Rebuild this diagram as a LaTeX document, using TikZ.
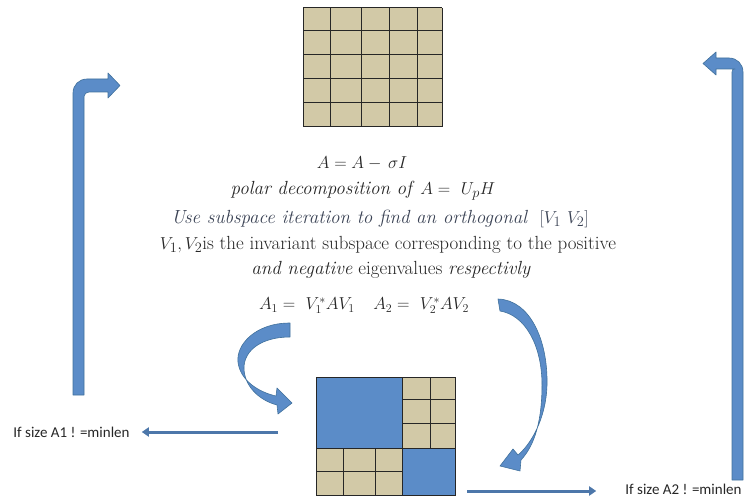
\documentclass[tikz,border=0pt]{standalone}
\usepackage{fontspec}
\newfontfamily\carl{Carlito}
\usetikzlibrary{arrows.meta}
\definecolor{tanc}{HTML}{D2C9A7}
\definecolor{blk}{HTML}{5B8CC8}
\definecolor{blkedge}{HTML}{41719C}
\definecolor{txt}{HTML}{262626}
\definecolor{txtb}{HTML}{3A4254}
\tikzset{
  gridline/.style={draw=black!85, line width=1pt},
  blockarrow/.style={fill=blk, draw=blkedge, line width=0.6pt, line join=round},
  conn/.style={draw=blk!85!black, line width=3pt, -{Triangle[length=7pt,width=9pt]}},
  eq/.style={text=txt, font=\fontsize{19}{22}\selectfont, inner sep=0pt, anchor=center,
    text height=13pt, text depth=4pt},
  side/.style={text=black!85, font=\carl\fontsize{15}{18}\selectfont, inner sep=0pt}
}
\begin{document}
\begin{tikzpicture}[x=1pt,y=-1pt]
\useasboundingbox (0,0) rectangle (747,497);
% top matrix
\fill[tanc] (303,8) rectangle (442,127);
\foreach \x in {303,330,361,389,417,442} \draw[gridline] (\x,8) -- (\x,127);
\foreach \y in {8,31,55,79,103,127} \draw[gridline] (303,\y) -- (442,\y);
% bottom matrix
\fill[blk] (316,377) rectangle (402,448);
\fill[tanc] (402,377) rectangle (455,448);
\fill[tanc] (316,448) rectangle (402,495);
\fill[blk] (402,448) rectangle (455,495);
\draw[gridline] (430,377) -- (430,448);
\foreach \y in {399,423} \draw[gridline] (402,\y) -- (455,\y);
\foreach \x in {343,375} \draw[gridline] (\x,448) -- (\x,495);
\draw[gridline] (316,471) -- (402,471);
\draw[gridline] (316,448) -- (455,448);
\draw[gridline] (402,377) -- (402,495);
\draw[gridline] (316,377) rectangle (455,495);
% text
\node[eq] (l1) at (362,164) {$A = A -\, \sigma I$};
\node[eq] (l2) at (363,190) {\textit{polar decomposition of} $A =\ U_pH$};
\node[eq, text=txtb] (l3) at (380,219) {\textit{Use subspace iteration to find an orthogonal} $\ [V_1\ V_2]$};
\node[eq] (l4) at (388,245) {$V_1,V_2$is the invariant subspace corresponding to the positive};
\node[eq] (l5) at (391,270) {\textit{and negative} eigenvalues \textit{respectivly}};
\node[eq, font=\fontsize{18.5}{20}\selectfont] (l6) at (364,305) {$A_1 =\ V_1^{\ast}AV_1 \quad A_2 =\ V_2^{\ast}AV_2$};
% side texts
\node[side] (s1) at (71.5,432) {If size A1 ! =minlen};
\node[side] (s2) at (683.5,489) {If size A2 ! =minlen};
\coordinate (c1) at (278,432);
\coordinate (c2) at (467,491);
\draw[conn, shorten >=12pt] (c1) -- (s1.east);
\draw[conn, shorten >=29pt] (c2) -- (c2 -| s2.west);
% left bent arrow
\path[blockarrow] (73,395) -- (73,93) .. controls (73,85) and (79,79) .. (87,79)
  -- (108,79) -- (108,73) -- (120,85.5) -- (108,98) -- (108,92) -- (89,92)
  .. controls (86.5,92) and (84,94) .. (84,96.5) -- (84,395) -- cycle;
% right bent arrow
\path[blockarrow] (743,480) -- (743,72) .. controls (743,64) and (737,58) .. (729,58)
  -- (716,58) -- (716,52) -- (703,63.5) -- (716,75) -- (716,69) -- (735,69)
  .. controls (733,69) and (732,70) .. (732,72) -- (732,480) -- cycle;
% left curved arrow
\path[blockarrow] (290,323) .. controls (255,323) and (236,345) .. (238,362)
  .. controls (240,380) and (258,392) .. (276,396) -- (277,388) -- (292,403)
  -- (278,414) -- (277,405) .. controls (258,400) and (244,385) .. (244,368)
  .. controls (244,350) and (262,337) .. (290,337) -- cycle;
% right curved arrow
\path[blockarrow] (498,299) .. controls (530,300) and (548,340) .. (547,385)
  .. controls (546,420) and (530,445) .. (518,455) -- (513,449) -- (500,466)
  -- (520,471) -- (521,460) .. controls (535,445) and (542,420) .. (542,385)
  .. controls (542,345) and (525,315) .. (500,311) -- cycle;
\end{tikzpicture}
\end{document}
